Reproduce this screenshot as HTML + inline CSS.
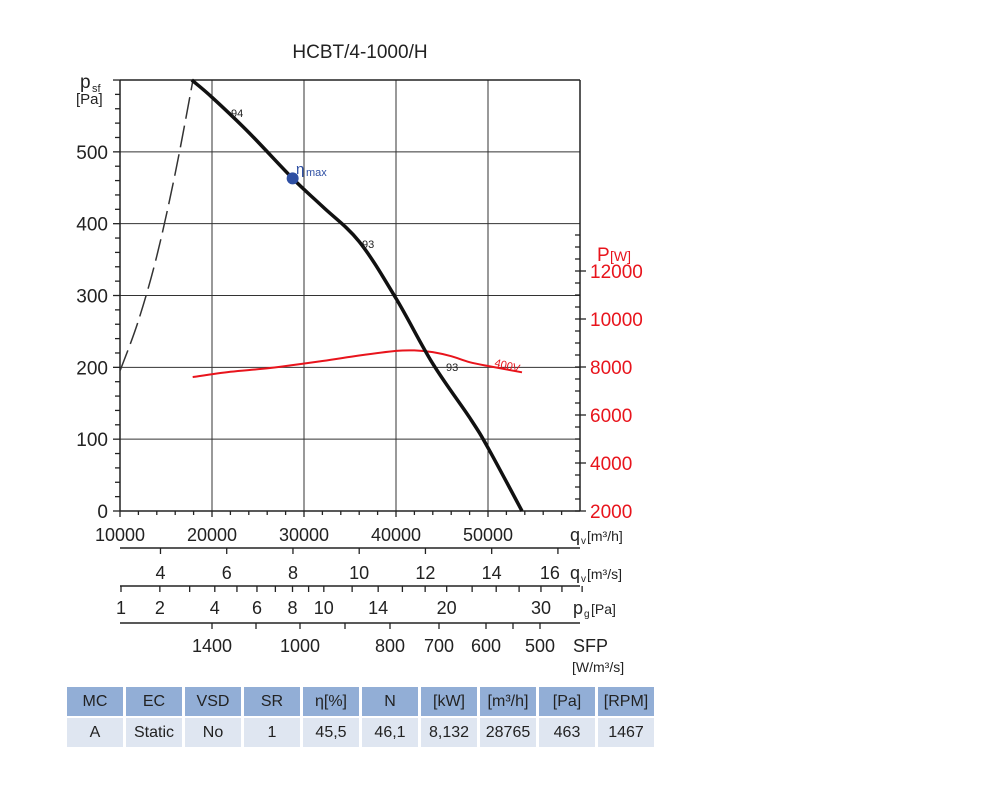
<!DOCTYPE html>
<html><head><meta charset="utf-8"><style>
body{margin:0;background:#fff;width:1000px;height:805px;overflow:hidden;font-family:"Liberation Sans",sans-serif}
svg{position:absolute;left:0;top:0}
table{position:absolute;left:64px;top:685px;border-collapse:separate;border-spacing:3px 2px;font-size:16px;color:#222}
td{text-align:center;height:29px;padding:0}
tr.h td{background:#92aed6}
tr.d td{background:#dfe6f1}
</style></head><body>
<svg id="c" width="1000" height="805"></svg>
<table>
<tr class="h"><td style="width:56px">MC</td><td style="width:56px">EC</td><td style="width:56px">VSD</td><td style="width:56px">SR</td><td style="width:56px">η[%]</td><td style="width:56px">N</td><td style="width:56px">[kW]</td><td style="width:56px">[m³/h]</td><td style="width:56px">[Pa]</td><td style="width:56px">[RPM]</td></tr>
<tr class="d"><td>A</td><td>Static</td><td>No</td><td>1</td><td>45,5</td><td>46,1</td><td>8,132</td><td>28765</td><td>463</td><td>1467</td></tr>
</table>
<script>
const fanQ=[17800,20000,24000,28765,32000,36000,40000,44000,48000,50000,53700];
const fanP=[600,576,527,463,424,375,296,205,130,88,0];
const sysQ=[10000,12000,14000,16000,17900];
const sysP=[195,265,355,470,598];
const powQ=[17900,22000,26300,32000,36000,40000,42000,44000,46000,48000,50000,53700];
const powW=[7580,7800,7960,8250,8480,8670,8690,8620,8450,8200,8040,7780];
const leftTicks=[0,100,200,300,400,500];
const rightTicks=[2000,4000,6000,8000,10000,12000];
const qTicks=[10000,20000,30000,40000,50000];
const qsTicks=[4,6,8,10,12,14,16];
const pgTicks=[1,2,3,4,5,6,7,8,9,10,12,14,16,18,20,22.5,25,27.5,30,32.5,35];
const pgLabels=[1,2,4,6,8,10,14,20,30];
const sfpTicks=[1400,1200,1000,900,800,700,600,550,500];
const sfpLabels=[1400,1000,800,700,600,500];
const etaQ=28765, etaP=463;

const X0=120,X1=580,Y0=511,YT=80;
const xs=q=>X0+(q-10000)*0.0092;
const ys=p=>Y0-p*0.7183;
const yr=w=>Y0-(w-2000)*0.024;
const xqs=v=>xs(v*3600);
const xpg=v=>121+93.8*(Math.sqrt(v)-1);
const xsfp=v=>{const a=[1400,1000,800,700,600,500],b=[212,300,390,439,486,540];
 for(let i=0;i<a.length-1;i++){if(v<=a[i]&&v>=a[i+1])return b[i]+(b[i+1]-b[i])*(a[i]-v)/(a[i]-a[i+1]);}return 540;};
const svg=document.getElementById('c');const NS='http://www.w3.org/2000/svg';
function el(t,a,txt){const e=document.createElementNS(NS,t);for(const k in a)e.setAttribute(k,a[k]);if(txt!==undefined)e.textContent=txt;svg.appendChild(e);return e;}
function line(x1,y1,x2,y2,c,w,n){const e=el('line',{x1,y1,x2,y2,stroke:c,'stroke-width':w});

return e;}
function text(x,y,s,o,n){const e=el('text',Object.assign({x,y,'font-size':18,fill:'#222','font-family':'Liberation Sans, sans-serif'},o),s);

return e;}
function path(qa,va,fx,fy,o,n){const P=qa.map((q,i)=>[fx(q),fy(va[i])]);
let d='M'+P[0][0].toFixed(1)+','+P[0][1].toFixed(1);
for(let i=0;i<P.length-1;i++){const p0=P[i-1]||P[i],p1=P[i],p2=P[i+1],p3=P[i+2]||p2;
const c1=[p1[0]+(p2[0]-p0[0])/6,p1[1]+(p2[1]-p0[1])/6],c2=[p2[0]-(p3[0]-p1[0])/6,p2[1]-(p3[1]-p1[1])/6];
d+='C'+c1.map(v=>v.toFixed(1))+' '+c2.map(v=>v.toFixed(1))+' '+p2.map(v=>v.toFixed(1));}
const e=el('path',Object.assign({d,fill:'none'},o));

return e;}

text(360,58,'HCBT/4-1000/H',{'text-anchor':'middle','font-size':19},'chart-title');
for(let q=20000;q<=50000;q+=10000)line(xs(q),YT,xs(q),Y0,'#333',1,'grid-vertical');
for(let p=100;p<=500;p+=100)line(X0,ys(p),X1,ys(p),'#333',1,'grid-horizontal');
line(X0,YT,X1,YT,'#222',1.5,'plot-top');line(X0,YT,X0,Y0,'#222',1.5,'left-axis');
line(X1,YT,X1,Y0,'#222',1.5,'right-axis');line(X0,Y0,X1,Y0,'#222',1.5,'bottom-axis');
for(let p=0;p<=600;p+=20)line(X0-(p%100?5:7),ys(p),X0,ys(p),'#222',1.3,'left-minor-tick');
leftTicks.forEach(p=>text(108,ys(p)+7,String(p),{'text-anchor':'end','font-size':19},'left-tick-label'));
text(80,88,'p',{'font-size':19},'y-axis-title');text(92,92,'sf',{'font-size':11},'y-axis-sub');
text(76,104,'[Pa]',{'font-size':15},'y-axis-unit');
for(let w=2000;w<=13500;w+=500)line(X1-5,yr(w),X1,yr(w),'#222',1.3,'right-minor-tick');
rightTicks.forEach(w=>{line(X1,yr(w),X1+6,yr(w),'#222',1.3,'right-tick');text(590,yr(w)+7,String(w),{fill:'#e8141c','font-size':19},'right-tick-label');});
text(597,261,'P',{fill:'#e8141c','font-size':19},'right-axis-title');text(610,261,'[W]',{fill:'#e8141c','font-size':14},'right-axis-unit');
for(let q=10000;q<=58000;q+=2000)line(xs(q),Y0,xs(q),Y0+(q%10000?4:6),'#222',1.3,'x-minor-tick');
qTicks.forEach(q=>text(xs(q),541,String(q),{'text-anchor':'middle','font-size':18},'x-tick-label'));
text(570,541,'q',{'font-size':18},'x-axis-title');text(581,544,'v',{'font-size':10},'x-sub');text(587,541,'[m³/h]',{'font-size':14},'x-unit');
line(X0,548,X1,548,'#222',1.5,'qs-axis');
qsTicks.forEach(v=>{line(xqs(v),548,xqs(v),554,'#222',1.3,'qs-tick');text(xqs(v)-(v==16?8:0),579,String(v),{'text-anchor':'middle','font-size':18},'qs-tick-label');});
text(570,579,'q',{'font-size':18},'qs-title');text(581,582,'v',{'font-size':10},'qs-sub');text(587,579,'[m³/s]',{'font-size':14},'qs-unit');
line(X0,586,X1,586,'#222',1.5,'pg-axis');
pgTicks.forEach(v=>line(xpg(v),586,xpg(v),592,'#222',1.3,'pg-tick'));
pgLabels.forEach(v=>text(xpg(v),614,String(v),{'text-anchor':'middle','font-size':18},'pg-tick-label'));
text(573,614,'p',{'font-size':18},'pg-title');text(584,617,'g',{'font-size':10},'pg-sub');text(591,614,'[Pa]',{'font-size':14},'pg-unit');
line(X0,623,X1,623,'#222',1.5,'sfp-axis');
sfpTicks.forEach(v=>line(xsfp(v),623,xsfp(v),629,'#222',1.3,'sfp-tick'));
sfpLabels.forEach(v=>text(xsfp(v),652,String(v),{'text-anchor':'middle','font-size':18},'sfp-tick-label'));
text(573,652,'SFP',{'font-size':18},'sfp-title');text(572,672,'[W/m³/s]',{'font-size':14},'sfp-unit');
path(sysQ,sysP,xs,ys,{stroke:'#333','stroke-width':1.5,'stroke-dasharray':'22,7'},'system-curve');
path(powQ,powW,xs,yr,{stroke:'#e8141c','stroke-width':2},'power-curve-400v');
path(fanQ,fanP,xs,ys,{stroke:'#111','stroke-width':3.5},'fan-curve');
const d=el('circle',{cx:xs(etaQ),cy:ys(etaP),r:6,fill:'#2e4fa3'});


text(296,174,'η',{fill:'#2e4fa3','font-size':15},'eta-max-label');text(306,176,'max',{fill:'#2e4fa3','font-size':11},'eta-max-sub');
text(231,117,'94',{'font-size':11},'eff-label-94');text(362,248,'93',{'font-size':11},'eff-label-93a');
text(446,371,'93',{'font-size':11},'eff-label-93b');
text(494,366,'400V',{fill:'#e8141c','font-size':11,transform:'rotate(14 494 366)'},'voltage-label');
</script>
</body></html>
